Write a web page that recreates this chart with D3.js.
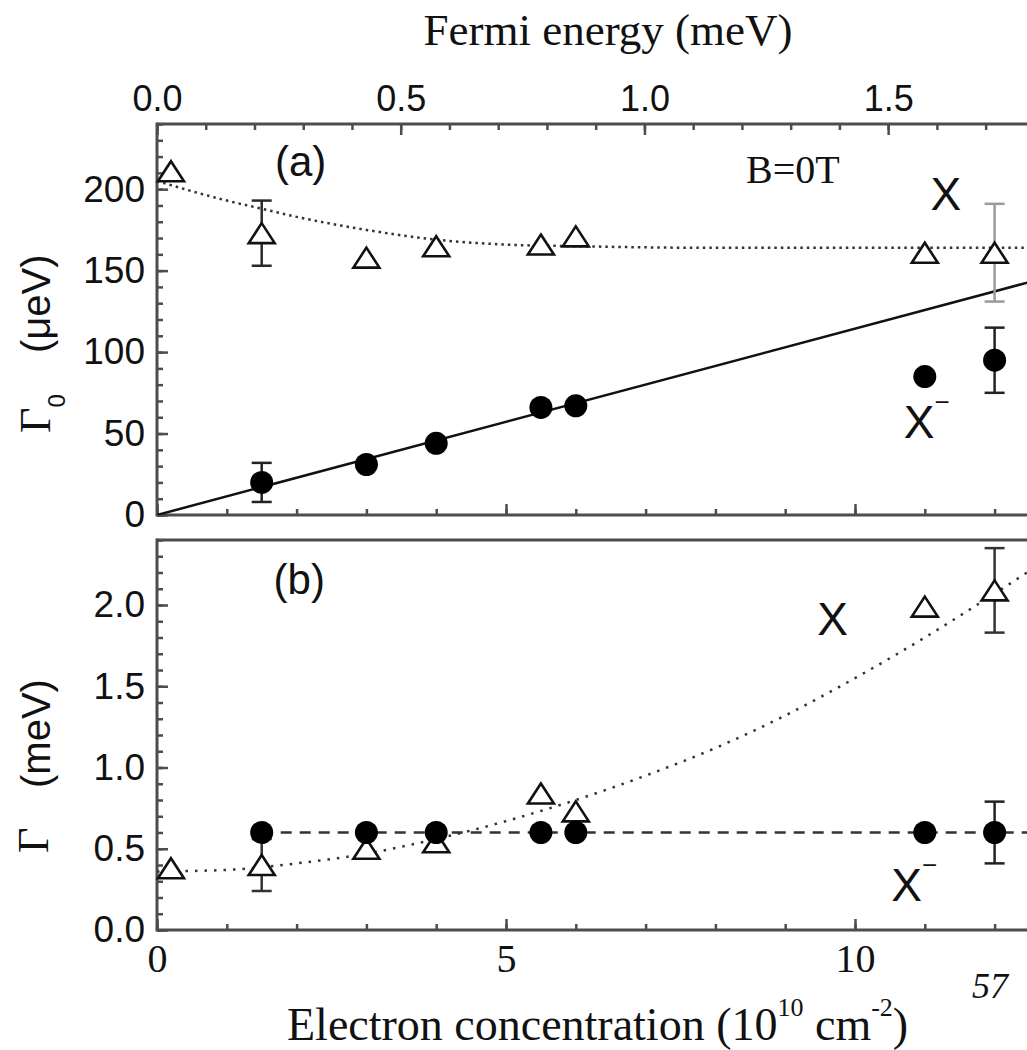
<!DOCTYPE html>
<html>
<head>
<meta charset="utf-8">
<script src="https://cdn.jsdelivr.net/npm/d3@7"></script>
<style>
  html, body { margin: 0; padding: 0; background: #fff; }
  svg { display: block; }
</style>
</head>
<body>
<div id="chart"></div>
<script>
// Electron concentration (1e10 cm^-2) of each measured point
const concExciton = [0.2, 1.5, 3.0, 4.0, 5.5, 6.0, 11.0, 12.0];
const concTrion   = [1.5, 3.0, 4.0, 5.5, 6.0, 11.0, 12.0];

// (a) radiative width Gamma_0 (ueV)
const gamma0Exciton    = [211, 173, 158, 165, 166, 171, 161, 161];
const gamma0ExcitonErr = [null, 20, null, null, null, null, null, 30];
const gamma0Trion      = [20, 31, 44, 66, 67, 85, 95];
const gamma0TrionErr   = [12, null, null, null, null, null, 20];

// (b) non-radiative width Gamma (meV)
const gammaExciton    = [0.38, 0.40, 0.50, 0.54, 0.84, 0.73, 1.99, 2.09];
const gammaExcitonErr = [null, 0.16, null, null, null, null, null, 0.26];
const gammaTrion      = [0.60, 0.60, 0.60, 0.60, 0.60, 0.60, 0.60];
const gammaTrionErr   = [null, null, null, null, null, null, 0.19];

// guide curves as [concentration, value]
const fitA_trion   = [[0, 0], [12.5, 143]];
const fitA_exciton = [[0, 205], [1, 193], [1.5, 188], [2, 183], [3, 175], [4, 169], [5, 166], [6, 165], [8, 164], [10, 164], [12.5, 164]];
const fitB_trion   = [[1.5, 0.6], [12.5, 0.6]];
const fitB_exciton = [[0, 0.36], [1, 0.37], [2, 0.41], [3, 0.47], [4, 0.56], [5, 0.67], [6, 0.80], [7, 0.95], [8, 1.12], [9, 1.32], [10, 1.55], [11, 1.80], [12, 2.07], [12.5, 2.21]];

// axis ticks
const concMajor  = [0, 5, 10];
const fermiMajor = [0, 0.5, 1.0, 1.5];
const g0Major    = [0, 50, 100, 150, 200];
const gMajor     = [0, 0.5, 1.0, 1.5, 2.0];

const W = 1027, H = 1050;
const svg = d3.select('#chart').append('svg').attr('width', W).attr('height', H);

const x = d3.scaleLinear().domain([0, 12.5]).range([157, 1029.5]);
const xTop = d3.scaleLinear().domain([0, 1.79]).range([157, 1029.5]);
const yA = d3.scaleLinear().domain([0, 240]).range([515, 124]);
const yB = d3.scaleLinear().domain([0, 2.4]).range([930, 540]);

const AXIS = '#4d4d4d';
const SANS = '"Liberation Sans", Arial, sans-serif';
const NARROW = '"Liberation Sans Narrow", "Arial Narrow", "Liberation Sans", sans-serif';
const SERIF = '"Liberation Serif", "Times New Roman", serif';

svg.append('clipPath').attr('id', 'clipA').append('rect')
  .attr('x', 157).attr('y', 124).attr('width', 880).attr('height', 391);
svg.append('clipPath').attr('id', 'clipB').append('rect')
  .attr('x', 157).attr('y', 540).attr('width', 880).attr('height', 390);

function styleAxis(g, fontFamily, fontSize) {
  g.select('.domain').remove();
  g.selectAll('.tick line').attr('stroke', AXIS).attr('stroke-width', 2.5);
  g.selectAll('.tick text').attr('fill', '#111').attr('font-family', fontFamily).attr('font-size', fontSize);
}

function ticks(parent, axis, transform, fontFamily, fontSize) {
  const g = parent.append('g').attr('transform', transform).call(axis);
  styleAxis(g, fontFamily, fontSize);
  return g;
}

// ---------- panel (a) ----------
const pa = svg.append('g');

// top axis: Fermi energy
ticks(pa, d3.axisTop(xTop).tickValues(d3.range(0, 1.8, 0.1)).tickSize(-6).tickFormat(''), `translate(0,${yA(240)})`);
ticks(pa, d3.axisTop(xTop).tickValues(fermiMajor).tickSize(-11).tickPadding(13).tickFormat(d3.format('.1f')),
  `translate(0,${yA(240)})`, NARROW, 36);
// left axis
ticks(pa, d3.axisLeft(yA).tickValues(d3.range(0, 241, 10)).tickSize(-6).tickFormat(''), `translate(${x(0)},0)`);
ticks(pa, d3.axisLeft(yA).tickValues(g0Major).tickSize(-11).tickPadding(12).tickFormat(d3.format('d')),
  `translate(${x(0)},0)`, SANS, 37);
// bottom axis (no labels)
ticks(pa, d3.axisBottom(x).tickValues(d3.range(0, 13, 1)).tickSize(-6).tickFormat(''), `translate(0,${yA(0)})`);
ticks(pa, d3.axisBottom(x).tickValues(concMajor).tickSize(-11).tickFormat(''), `translate(0,${yA(0)})`);

// frame
pa.append('line').attr('x1', x(0)).attr('x2', W).attr('y1', yA(240)).attr('y2', yA(240)).attr('stroke', AXIS).attr('stroke-width', 3);
pa.append('line').attr('x1', x(0)).attr('x2', W).attr('y1', yA(0)).attr('y2', yA(0)).attr('stroke', AXIS).attr('stroke-width', 3);
pa.append('line').attr('x1', x(0)).attr('x2', x(0)).attr('y1', yA(240) - 1.5).attr('y2', yA(0) + 1.5).attr('stroke', AXIS).attr('stroke-width', 3);

// ---------- panel (b) ----------
const pb = svg.append('g');
ticks(pb, d3.axisLeft(yB).tickValues(d3.range(0, 2.41, 0.1)).tickSize(-6).tickFormat(''), `translate(${x(0)},0)`);
ticks(pb, d3.axisLeft(yB).tickValues(gMajor).tickSize(-11).tickPadding(12).tickFormat(d3.format('.1f')),
  `translate(${x(0)},0)`, SANS, 37);
ticks(pb, d3.axisBottom(x).tickValues(d3.range(0, 13, 1)).tickSize(-6).tickFormat(''), `translate(0,${yB(0)})`);
ticks(pb, d3.axisBottom(x).tickValues(concMajor).tickSize(-11).tickPadding(14).tickFormat(d3.format('d')),
  `translate(0,${yB(0)})`, SERIF, 40);

pb.append('line').attr('x1', x(0)).attr('x2', W).attr('y1', yB(2.4)).attr('y2', yB(2.4)).attr('stroke', AXIS).attr('stroke-width', 3);
pb.append('line').attr('x1', x(0)).attr('x2', W).attr('y1', yB(0)).attr('y2', yB(0)).attr('stroke', AXIS).attr('stroke-width', 3);
pb.append('line').attr('x1', x(0)).attr('x2', x(0)).attr('y1', yB(2.4) - 1.5).attr('y2', yB(0) + 1.5).attr('stroke', AXIS).attr('stroke-width', 3);

// ---------- curves ----------
function curve(parent, pts, yScale, clip, dash, width, color) {
  const line = d3.line().x(d => x(d[0])).y(d => yScale(d[1])).curve(d3.curveMonotoneX);
  parent.append('path').datum(pts)
    .attr('d', line).attr('fill', 'none')
    .attr('stroke', color).attr('stroke-width', width)
    .attr('stroke-dasharray', dash)
    .attr('clip-path', `url(#${clip})`);
}
curve(pa, fitA_trion, yA, 'clipA', null, 2.5, '#111');
curve(pa, fitA_exciton, yA, 'clipA', '2.5,4', 2.5, '#333');
curve(pb, fitB_trion, yB, 'clipB', '11,8', 2.5, '#333');
curve(pb, fitB_exciton, yB, 'clipB', '2.5,7', 2.5, '#333');

// ---------- error bars ----------
function errorBars(parent, xs, vals, errs, yScale, colorFor) {
  const cap = 10;
  const data = xs.map((c, i) => ({ c, v: vals[i], e: errs[i], i })).filter(d => d.e != null);
  const g = parent.append('g').attr('stroke-width', 2.5);
  data.forEach(d => {
    const col = colorFor(d.i);
    const cx = x(d.c), y1 = yScale(d.v + d.e), y2 = yScale(d.v - d.e);
    g.append('line').attr('stroke', col).attr('x1', cx).attr('x2', cx).attr('y1', y1).attr('y2', y2);
    g.append('line').attr('stroke', col).attr('x1', cx - cap).attr('x2', cx + cap).attr('y1', y1).attr('y2', y1);
    g.append('line').attr('stroke', col).attr('x1', cx - cap).attr('x2', cx + cap).attr('y1', y2).attr('y2', y2);
  });
}
// the last exciton bar of panel (a) is printed lighter
errorBars(pa, concExciton, gamma0Exciton, gamma0ExcitonErr, yA, i => (i === concExciton.length - 1 ? '#9a9a9a' : '#2a2a2a'));
errorBars(pa, concTrion, gamma0Trion, gamma0TrionErr, yA, () => '#222');
errorBars(pb, concExciton, gammaExciton, gammaExcitonErr, yB, () => '#333');
errorBars(pb, concTrion, gammaTrion, gammaTrionErr, yB, () => '#222');

// ---------- markers ----------
const triPath = 'M0,-10L13,10L-13,10Z';
function triangles(parent, xs, vals, yScale) {
  parent.append('g').selectAll('path').data(xs.map((c, i) => [c, vals[i]])).join('path')
    .attr('d', triPath)
    .attr('transform', d => `translate(${x(d[0])},${yScale(d[1])})`)
    .attr('fill', '#fff').attr('stroke', '#111').attr('stroke-width', 2.6).attr('stroke-linejoin', 'miter');
}
function dots(parent, xs, vals, yScale) {
  parent.append('g').selectAll('circle').data(xs.map((c, i) => [c, vals[i]])).join('circle')
    .attr('cx', d => x(d[0])).attr('cy', d => yScale(d[1])).attr('r', 11.5).attr('fill', '#000');
}
triangles(pa, concExciton, gamma0Exciton, yA);
dots(pa, concTrion, gamma0Trion, yA);
triangles(pb, concExciton, gammaExciton, yB);
dots(pb, concTrion, gammaTrion, yB);

// ---------- annotations ----------
function label(parent, txt, px, py, family, size) {
  return parent.append('text').attr('x', px).attr('y', py).text(txt)
    .attr('font-family', family).attr('font-size', size).attr('fill', '#111');
}
label(pa, '(a)', x(1.69), yA(208), SANS, 42);
label(pa, 'B=0T', x(8.44), yA(204), SERIF, 40);
label(pa, 'X', x(11.08), yA(187), SANS, 46);
const xmA = label(pa, 'X', x(10.7), yA(47), SANS, 46);
xmA.append('tspan').attr('dy', -27).attr('font-size', 26).text('\u2212');

label(pb, '(b)', x(1.67), yB(2.07), SANS, 42);
label(pb, 'X', x(9.46), yB(1.815), SANS, 46);
const xmB = label(pb, 'X', x(10.52), yB(0.178), SANS, 46);
xmB.append('tspan').attr('dy', -27).attr('font-size', 26).text('\u2212');

// ---------- axis titles ----------
svg.append('text').attr('x', 608).attr('y', 45).attr('text-anchor', 'middle')
  .attr('font-family', SERIF).attr('font-size', 45).attr('fill', '#111')
  .text('Fermi energy (meV)');

const xt = svg.append('text').attr('x', 287).attr('y', 1040)
  .attr('font-family', SERIF).attr('font-size', 46).attr('fill', '#111');
xt.append('tspan').text('Electron concentration (10');
xt.append('tspan').attr('dy', -24).attr('font-size', 26).text('10');
xt.append('tspan').attr('dy', 24).text(' cm');
xt.append('tspan').attr('dy', -24).attr('font-size', 26).text('-2');
xt.append('tspan').attr('dy', 24).text(')');

// Gamma_0 (ueV)
const ya1 = svg.append('text').attr('transform', 'translate(50,433) rotate(-90)')
  .attr('font-family', SERIF).attr('font-size', 44).attr('fill', '#111');
ya1.append('tspan').text('\u0393');
ya1.append('tspan').attr('dy', 15).attr('font-family', SANS).attr('font-size', 24).text('0');
svg.append('text').attr('transform', 'translate(50,353) rotate(-90)')
  .attr('font-family', SANS).attr('font-size', 40).attr('fill', '#111').text('(\u03bceV)');

// Gamma (meV)
svg.append('text').attr('transform', 'translate(48,853) rotate(-90)')
  .attr('font-family', SERIF).attr('font-size', 44).attr('fill', '#111').text('\u0393');
svg.append('text').attr('transform', 'translate(50,788) rotate(-90)')
  .attr('font-family', SANS).attr('font-size', 40).attr('fill', '#111').text('(meV)');

// page number
svg.append('text').attr('x', 990).attr('y', 998).attr('text-anchor', 'middle')
  .attr('font-family', SERIF).attr('font-style', 'italic').attr('font-size', 36).attr('fill', '#111').text('57');
</script>
</body>
</html>
